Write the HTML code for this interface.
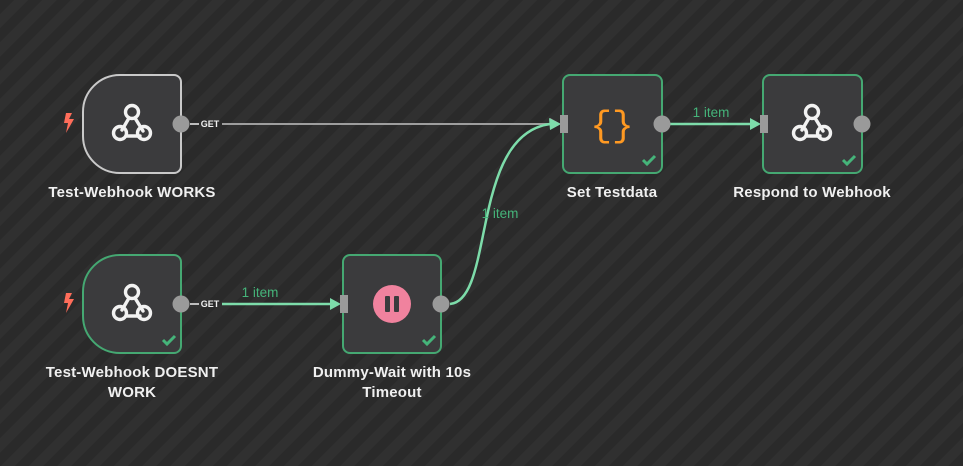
<!DOCTYPE html>
<html><head><meta charset="utf-8"><style>
html,body{margin:0;padding:0}
body{width:963px;height:466px;overflow:hidden;background:#2b2b2b;
background-image:repeating-linear-gradient(135deg,#2a2a2a 0 10px,#303030 10px 20px);
font-family:"Liberation Sans",sans-serif}
svg{position:absolute;left:0;top:0}
.lb{fill:#f0f0f0;font-size:15px;font-weight:bold;letter-spacing:0.2px}
</style></head><body>
<svg width="963" height="466" viewBox="0 0 963 466">
<defs>
<g id="wh" fill="none" stroke="#f2f2f2" stroke-width="3.4" stroke-linecap="round">
<circle cx="0" cy="-12" r="6.5"/>
<circle cx="-12" cy="9" r="6.5"/>
<circle cx="12" cy="9" r="6.5"/>
<path d="M-3 -6 L-10 6"/>
<path d="M3 -6 L11 7"/>
<path d="M-6 12 L8 12"/>
</g>
<g id="chk"><path d="M-6 0 L-2 4 L6 -4" fill="none" stroke="#45b47a" stroke-width="3"/></g>
</defs>
<line x1="190" y1="124" x2="199" y2="124" stroke="#bdbdbd" stroke-width="2"/>
<line x1="222" y1="124" x2="550" y2="124" stroke="#9e9e9e" stroke-width="2"/>
<polygon points="550,118 561,124 550,130" fill="#9e9e9e"/>
<line x1="190" y1="304" x2="199" y2="304" stroke="#bdbdbd" stroke-width="2"/>
<line x1="222" y1="304" x2="330" y2="304" stroke="#7ddcaa" stroke-width="2.5"/>
<polygon points="330,298 341,304 330,310" fill="#7ddcaa"/>
<text x="260" y="297" fill="#45b47a" font-size="13.5" text-anchor="middle">1 item</text>
<path d="M450 304 C495 300 470 135 550 124" fill="none" stroke="#7ddcaa" stroke-width="2.5"/>
<polygon points="549,118 561,124 550,130" fill="#7ddcaa"/>
<text x="500" y="218" fill="#45b47a" font-size="13.5" text-anchor="middle">1 item</text>
<line x1="670" y1="124" x2="750" y2="124" stroke="#7ddcaa" stroke-width="2.5"/>
<polygon points="750,118 761,124 750,130" fill="#7ddcaa"/>
<text x="711" y="117" fill="#45b47a" font-size="13.5" text-anchor="middle">1 item</text>
<text x="210" y="127" fill="#f0f0f0" font-size="9" font-weight="bold" text-anchor="middle">GET</text>
<text x="210" y="307" fill="#f0f0f0" font-size="9" font-weight="bold" text-anchor="middle">GET</text>

<path d="M120 75 H174 a7 7 0 0 1 7 7 V166 a7 7 0 0 1 -7 7 H120 a37 37 0 0 1 -37 -37 V112 a37 37 0 0 1 37 -37z" fill="#3b3b3d" stroke="#c9c9c9" stroke-width="2"/>
<use href="#wh" x="132" y="124"/>
<circle cx="181" cy="124" r="8.5" fill="#9a9a9a"/>
<path d="M66 113 L72 113 L69 119 L74 119 L66 133 L68 123 L64 123z" fill="#ff6d5a"/>
<text x="132" y="197" class="lb" text-anchor="middle">Test-Webhook WORKS</text>

<path d="M120 255 H174 a7 7 0 0 1 7 7 V346 a7 7 0 0 1 -7 7 H120 a37 37 0 0 1 -37 -37 V292 a37 37 0 0 1 37 -37z" fill="#3b3b3d" stroke="#45a872" stroke-width="2"/>
<use href="#wh" x="132" y="304"/>
<circle cx="181" cy="304" r="8.5" fill="#9a9a9a"/>
<use href="#chk" x="169" y="340"/>
<path d="M66 293 L72 293 L69 299 L74 299 L66 313 L68 303 L64 303z" fill="#ff6d5a"/>
<text x="132" y="377" class="lb" text-anchor="middle">Test-Webhook DOESNT</text>
<text x="132" y="397" class="lb" text-anchor="middle">WORK</text>

<rect x="343" y="255" width="98" height="98" rx="7" fill="#3b3b3d" stroke="#45a872" stroke-width="2"/>
<rect x="340" y="295" width="8" height="18" fill="#9a9a9a"/>
<circle cx="392" cy="304" r="19" fill="#f0829e"/>
<rect x="385" y="296" width="5" height="16" rx="1" fill="#3b3b3d"/>
<rect x="394" y="296" width="5" height="16" rx="1" fill="#3b3b3d"/>
<circle cx="441" cy="304" r="8.5" fill="#9a9a9a"/>
<use href="#chk" x="429" y="340"/>
<text x="392" y="377" class="lb" text-anchor="middle">Dummy-Wait with 10s</text>
<text x="392" y="397" class="lb" text-anchor="middle">Timeout</text>

<rect x="563" y="75" width="99" height="98" rx="7" fill="#3b3b3d" stroke="#45a872" stroke-width="2"/>
<rect x="560" y="115" width="8" height="18" fill="#9a9a9a"/>
<text x="612" y="136" fill="#ff9922" font-size="36" text-anchor="middle" font-family="Liberation Mono,monospace">{}</text>
<circle cx="662" cy="124" r="8.5" fill="#9a9a9a"/>
<use href="#chk" x="649" y="160"/>
<text x="612" y="197" class="lb" text-anchor="middle">Set Testdata</text>

<rect x="763" y="75" width="99" height="98" rx="7" fill="#3b3b3d" stroke="#45a872" stroke-width="2"/>
<rect x="760" y="115" width="8" height="18" fill="#9a9a9a"/>
<use href="#wh" x="812" y="124"/>
<circle cx="862" cy="124" r="8.5" fill="#9a9a9a"/>
<use href="#chk" x="849" y="160"/>
<text x="812" y="197" class="lb" text-anchor="middle">Respond to Webhook</text>
</svg>
</body></html>
